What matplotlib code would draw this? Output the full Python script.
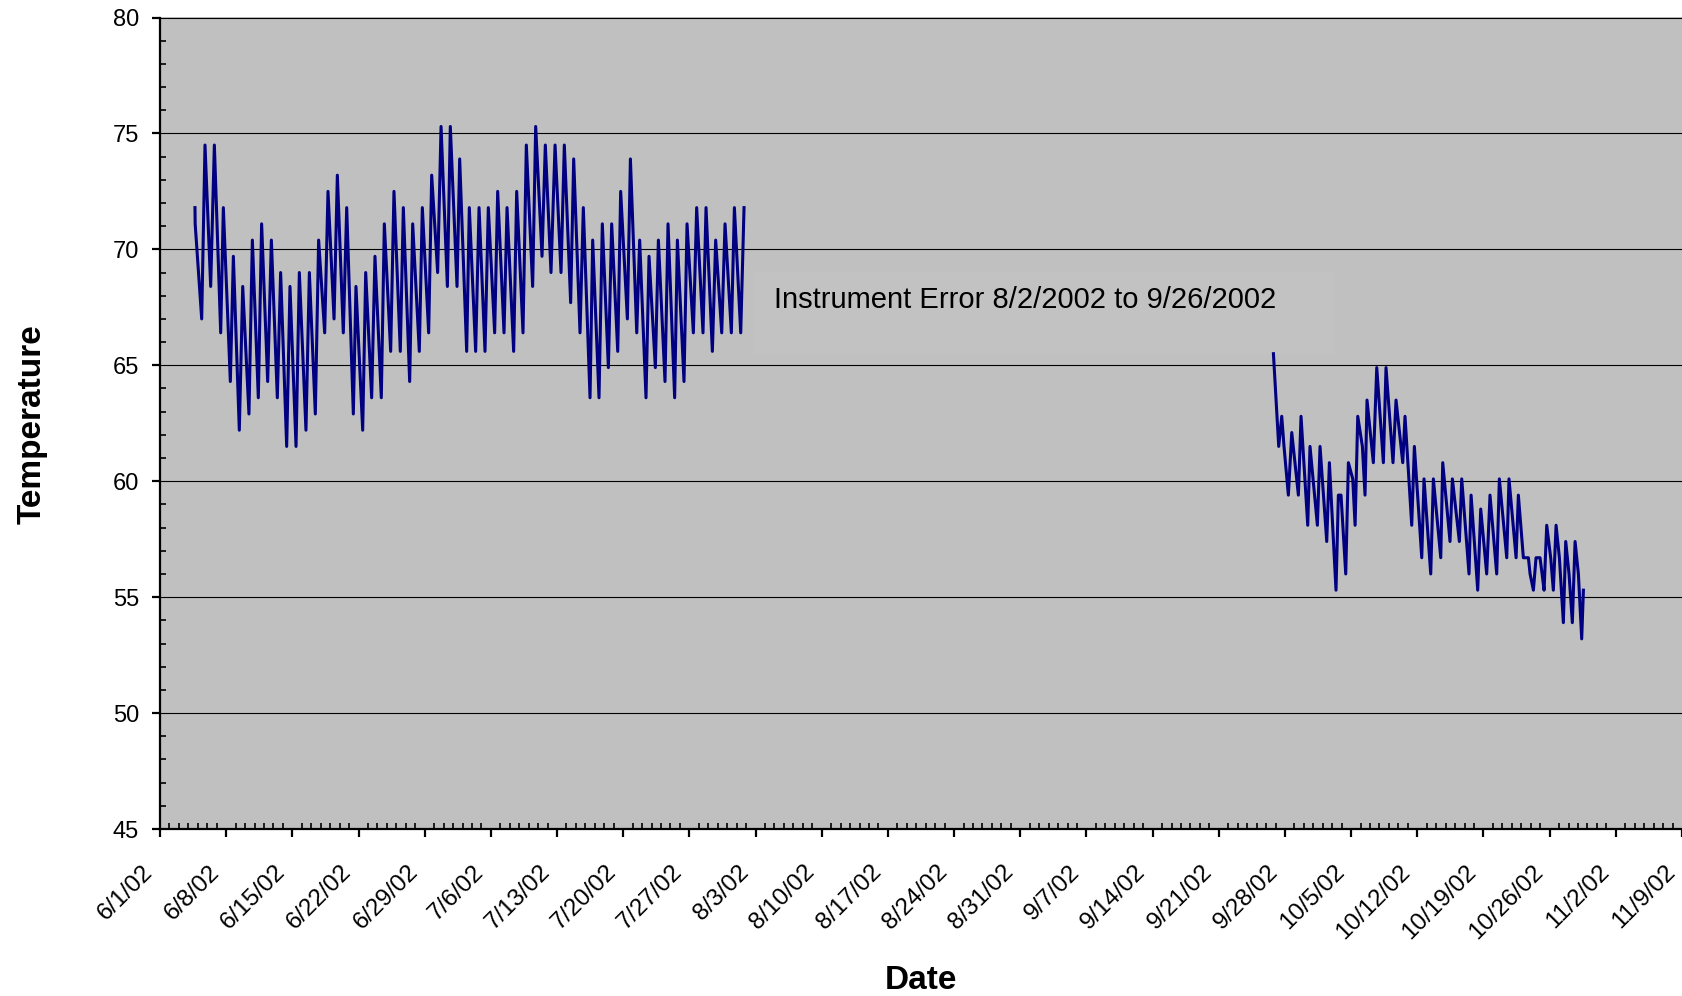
import matplotlib
matplotlib.use("Agg")
import matplotlib.pyplot as plt
import matplotlib.dates as mdates
import matplotlib.transforms as mtransforms
from matplotlib.patches import Rectangle
from matplotlib.ticker import MultipleLocator
import pandas as pd

plt.rcParams['font.family'] = ['Liberation Sans', 'DejaVu Sans']

# ---- data (days after 6/1/2002, temperature) ----
start_date = "2002-06-01"

days_summer = [3.70, 3.72, 4.41, 4.76, 5.36, 5.75, 6.42, 6.70, 7.44, 7.76, 8.39, 8.75, 9.41, 9.77, 10.40,
               10.75, 11.39, 11.78, 12.41, 12.76, 13.40, 13.75, 14.39, 14.74, 15.44, 15.80, 16.43, 16.78,
               17.10, 17.42, 17.77,
               18.41, 18.76, 19.39, 19.75, 20.45, 20.73, 21.44, 21.76, 22.39, 22.74, 23.41, 23.73, 24.40,
               24.75, 25.42, 25.74, 26.41, 26.73, 27.43, 27.75, 28.42, 28.74, 29.37, 29.73, 30.40, 30.71,
               31.42, 31.70, 32.44, 32.72,
               33.39, 33.75, 34.38, 34.73, 35.40, 35.72, 36.39, 36.71, 37.41, 37.73, 38.40, 38.75, 39.42,
               39.74, 40.41, 40.76, 41.36, 41.79, 42.42, 42.77, 43.44, 43.76, 44.43, 44.78, 45.49, 45.77,
               46.44, 46.79, 47.43, 47.78, 48.42,
               48.73, 49.44, 49.76, 50.43, 50.74, 51.41, 51.73, 52.40, 52.72, 53.42, 53.74, 54.44, 54.73,
               55.43, 55.75, 56.42, 56.77, 57.44, 57.76, 58.43, 58.78, 59.42, 59.77, 60.44, 60.76, 61.43,
               61.78]
temps_summer = [71.8, 71.1, 67.0, 74.5, 68.4, 74.5, 66.4, 71.8, 64.3, 69.7, 62.2, 68.4, 62.9, 70.4, 63.6,
                71.1, 64.3, 70.4, 63.6, 69.0, 61.5, 68.4, 61.5, 69.0, 62.2, 69.0, 62.9, 70.4, 68.4, 66.4,
                72.5,
                67.0, 73.2, 66.4, 71.8, 62.9, 68.4, 62.2, 69.0, 63.6, 69.7, 63.6, 71.1, 65.6, 72.5, 65.6,
                71.8, 64.3, 71.1, 65.6, 71.8, 66.4, 73.2, 69.0, 75.3, 68.4, 75.3, 68.4, 73.9, 65.6, 71.8,
                65.6, 71.8, 65.6, 71.8, 66.4, 72.5, 66.4, 71.8, 65.6, 72.5, 66.4, 74.5, 68.4, 75.3, 69.7,
                74.5, 69.0, 74.5, 69.0, 74.5, 67.7, 73.9, 66.4, 71.8, 63.6, 70.4, 63.6, 71.1, 64.9, 71.1,
                65.6,
                72.5, 67.0, 73.9, 66.4, 70.4, 63.6, 69.7, 64.9, 70.4, 64.3, 71.1, 63.6, 70.4, 64.3, 71.1,
                66.4, 71.8, 66.4, 71.8, 65.6, 70.4, 66.4, 71.1, 66.4, 71.8, 66.4, 71.8]

days_fall = [117.78, 118.34, 118.66, 118.90, 119.36, 119.72, 120.42, 120.70, 121.41, 121.65, 122.43,
             122.71, 123.42, 123.70, 124.40, 124.65, 124.93, 125.43, 125.71, 126.17, 126.42, 126.70,
             127.19, 127.47, 127.68, 128.35, 128.71, 129.41, 129.69, 130.43, 130.75, 131.46, 131.70,
             132.41, 132.69, 133.47, 133.71,
             134.42, 134.70, 135.48, 135.69, 136.46, 136.71, 137.45, 137.70, 138.47, 138.69, 139.39,
             139.71, 140.34, 140.69, 141.40, 141.68, 142.46, 142.70, 143.45, 143.69, 144.22, 144.75,
             144.93, 145.28, 145.56, 145.98, 146.20, 146.41, 146.69, 147.11, 147.39, 147.68, 148.03,
             148.45, 148.70, 149.05, 149.40, 149.69, 150.04, 150.39, 150.57]
temps_fall = [65.5, 61.5, 62.8, 61.5, 59.4, 62.1, 59.4, 62.8, 58.1, 61.5, 58.1,
              61.5, 57.4, 60.8, 55.3, 59.4, 59.4, 56.0, 60.8, 60.1, 58.1, 62.8,
              61.5, 59.4, 63.5, 60.8, 64.9, 60.8, 64.9, 60.8, 63.5, 60.8, 62.8,
              58.1, 61.5, 56.7, 60.1,
              56.0, 60.1, 56.7, 60.8, 57.4, 60.1, 57.4, 60.1, 56.0, 59.4, 55.3,
              58.8, 56.0, 59.4, 56.0, 60.1, 56.7, 60.1, 56.7, 59.4, 56.7, 56.7,
              56.0, 55.3, 56.7, 56.7, 56.0, 55.3, 58.1, 56.7, 55.3, 58.1, 56.7,
              53.9, 57.4, 56.0, 53.9, 57.4, 56.0, 53.2, 55.3]

tick_labels = ['6/1/02', '6/8/02', '6/15/02', '6/22/02', '6/29/02', '7/6/02', '7/13/02', '7/20/02',
               '7/27/02', '8/3/02', '8/10/02', '8/17/02', '8/24/02', '8/31/02', '9/7/02', '9/14/02',
               '9/21/02', '9/28/02', '10/5/02', '10/12/02', '10/19/02', '10/26/02', '11/2/02', '11/9/02']
annotation = "Instrument Error 8/2/2002 to 9/26/2002"

# ---- figure ----
base = pd.Timestamp(start_date)
x1 = base + pd.to_timedelta(days_summer, unit='D')
x2 = base + pd.to_timedelta(days_fall, unit='D')
tick_dates = pd.to_datetime(tick_labels, format='%m/%d/%y')

fig = plt.figure(figsize=(16.82, 9.96), dpi=100)
ax = fig.add_axes([160 / 1682, 1 - 829 / 996, 1 - 160 / 1682, (829 - 17.5) / 996])
ax.set_facecolor('#C0C0C0')

# faint text-box background behind the annotation
ax.add_patch(Rectangle((0.3896, 0.5853), 0.3824, 0.1011, transform=ax.transAxes,
                       facecolor='#C2C2C2', edgecolor='none', zorder=1))

ax.plot(x1, temps_summer, color='#000080', lw=2.2, zorder=3)
ax.plot(x2, temps_fall, color='#000080', lw=2.2, zorder=3)

ax.set_xlim(tick_dates[0], tick_dates[-1])
ax.set_ylim(45, 80)

ax.set_xticks(tick_dates)
ax.set_xticklabels(tick_labels)
ax.xaxis.set_minor_locator(mdates.DayLocator())
ax.yaxis.set_major_locator(MultipleLocator(5))
ax.yaxis.set_minor_locator(MultipleLocator(1))

ax.grid(axis='y', which='major', color='black', lw=0.8, zorder=2)
ax.set_axisbelow(False)

for s in ['top', 'right']:
    ax.spines[s].set_visible(False)
for s in ['left', 'bottom']:
    ax.spines[s].set_linewidth(1.6)
    ax.spines[s].set_color('black')

ax.tick_params(axis='both', which='major', direction='out', length=6, width=1.6,
               labelsize=17, colors='black')
ax.tick_params(axis='both', which='minor', direction='in', length=4.5, width=1.2)
ax.tick_params(axis='y', which='major', pad=9)
ax.tick_params(axis='x', which='major', pad=17)

offset = mtransforms.ScaledTranslation(-18 / 100, 0, fig.dpi_scale_trans)
for lab in ax.get_xticklabels():
    lab.set_rotation(45)
    lab.set_ha('right')
    lab.set_va('top')
    lab.set_rotation_mode('anchor')
    lab.set_fontsize(17.5)
    lab.set_transform(lab.get_transform() + offset)

ax.text(0.4031, 0.642, annotation, transform=ax.transAxes, fontsize=21,
        ha='left', va='baseline', color='black', zorder=4)

fig.text(921 / 1682, 1 - 980 / 996, 'Date', fontsize=24, fontweight='bold',
         ha='center', va='center')
fig.text(32 / 1682, 1 - 424 / 996, 'Temperature', fontsize=24, fontweight='bold',
         ha='center', va='center', rotation=90)

fig.savefig('out.png', dpi=100, facecolor='white')
